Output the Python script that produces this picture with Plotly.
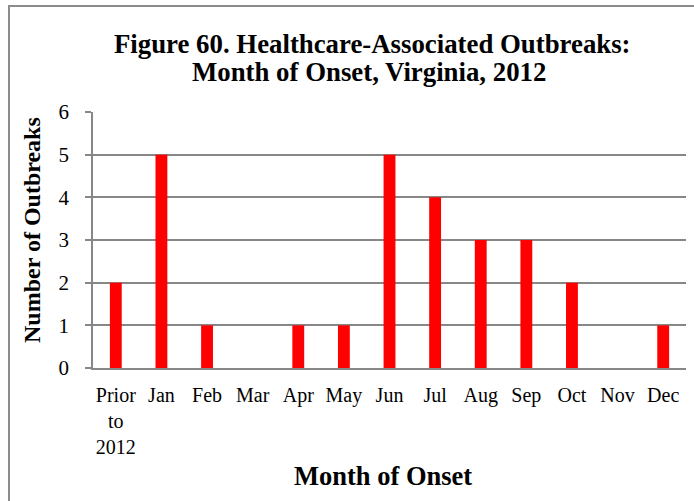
import plotly.graph_objects as go

months = ["Prior<br>to<br>2012", "Jan", "Feb", "Mar", "Apr", "May", "Jun",
          "Jul", "Aug", "Sep", "Oct", "Nov", "Dec"]
outbreaks = [2, 5, 1, 0, 1, 1, 5, 4, 3, 3, 2, 0, 1]
y_ticks = [0, 1, 2, 3, 4, 5, 6]

title_lines = ["Figure 60. Healthcare-Associated Outbreaks:",
               "Month of Onset, Virginia, 2012"]
x_title = "Month of Onset"
y_title = "Number of Outbreaks"

W, H = 694, 501
L, R, T, B = 93, 8, 112, 133
PW, PH = W - L - R, H - T - B


def px_x(px):
    return (px - L) / PW


def px_y(py):
    return (H - B - py) / PH


FONT = "Liberation Serif"
GRID = "#878787"

fig = go.Figure(go.Bar(x=months, y=outbreaks, marker=dict(color="#FF0000", line=dict(width=0)),
                       width=0.26))

annotations = [
    dict(text="<b>%s</b>" % title_lines[0], x=px_x(372), y=px_y(43.5), xref="paper", yref="paper",
         showarrow=False, xanchor="center", yanchor="middle", font=dict(family=FONT, size=26.8, color="black")),
    dict(text="<b>%s</b>" % title_lines[1], x=px_x(369), y=px_y(71.5), xref="paper", yref="paper",
         showarrow=False, xanchor="center", yanchor="middle", font=dict(family=FONT, size=26.8, color="black")),
    dict(text="<b>%s</b>" % x_title, x=px_x(382.5), y=px_y(476), xref="paper", yref="paper",
         showarrow=False, xanchor="center", yanchor="middle", font=dict(family=FONT, size=26.5, color="black")),
    dict(text="<b>%s</b>" % y_title, x=px_x(32), y=px_y(230), xref="paper", yref="paper",
         showarrow=False, xanchor="center", yanchor="middle", textangle=-90,
         font=dict(family=FONT, size=24, color="black")),
]

shapes = [
    dict(type="rect", xref="paper", yref="paper", x0=px_x(9), x1=px_x(710), y0=px_y(520), y1=px_y(6),
         line=dict(color="#8c8c8c", width=2), fillcolor="rgba(0,0,0,0)", layer="below"),
]

fig.update_layout(
    width=W, height=H,
    margin=dict(l=L, r=R, t=T, b=B, pad=0),
    paper_bgcolor="white", plot_bgcolor="white",
    showlegend=False,
    font=dict(family=FONT, size=20, color="black"),
    annotations=annotations,
    shapes=shapes,
    xaxis=dict(type="category", showgrid=False, showline=True, linecolor=GRID, linewidth=1.5,
               ticks="", ticklabelstandoff=8, tickfont=dict(family=FONT, size=20, color="black"),
               zeroline=False),
    yaxis=dict(range=[0, 6], tickvals=y_ticks, showgrid=True, gridcolor=GRID, gridwidth=1.5,
               showline=True, linecolor=GRID, linewidth=1.5, ticks="outside", ticklen=6,
               tickcolor=GRID, tickwidth=1.5, ticklabelstandoff=12,
               tickfont=dict(family=FONT, size=21, color="black"), zeroline=False),
)

fig.write_html("out.html")
